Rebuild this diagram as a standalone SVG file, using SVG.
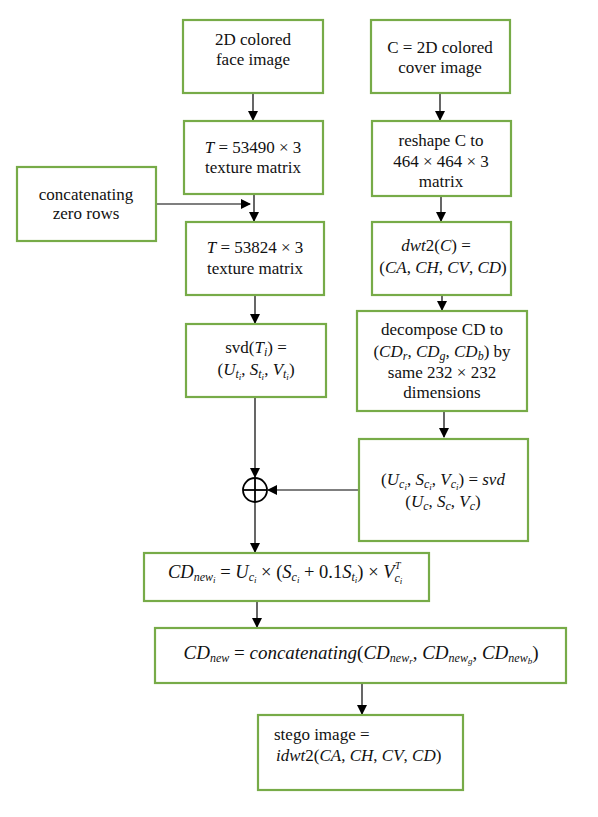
<svg xmlns="http://www.w3.org/2000/svg" width="598" height="817" viewBox="0 0 598 817">
<style>
.b{fill:#fff;stroke:#77ab48;stroke-width:2.2}
.c{fill:none;stroke:#000;stroke-width:1.2}
.t{font-family:"Liberation Serif",serif;font-size:17px;fill:#111;text-anchor:middle}
.l{text-anchor:start}
.m{font-style:italic}
.s{font-size:12px}
.ss{font-size:9px}
</style>
<defs>
<marker id="ah" markerWidth="10" markerHeight="10" refX="9" refY="5" orient="auto" markerUnits="userSpaceOnUse">
<path d="M0,0 L10,5 L0,10 Z" fill="#000"/>
</marker>
</defs>
<rect width="598" height="817" fill="#fff"/>
<g id="connectors">
<line class="c" x1="253" y1="93" x2="253" y2="120" marker-end="url(#ah)"/>
<line class="c" x1="440" y1="93" x2="440" y2="120" marker-end="url(#ah)"/>
<line class="c" x1="254" y1="194" x2="254" y2="221" marker-end="url(#ah)"/>
<line class="c" x1="156" y1="204" x2="250" y2="204" marker-end="url(#ah)"/>
<line class="c" x1="441" y1="196" x2="441" y2="221" marker-end="url(#ah)"/>
<line class="c" x1="255" y1="295" x2="255" y2="323" marker-end="url(#ah)"/>
<line class="c" x1="442" y1="295" x2="442" y2="310" marker-end="url(#ah)"/>
<line class="c" x1="444" y1="411" x2="444" y2="437" marker-end="url(#ah)"/>
<line class="c" x1="255" y1="397" x2="255" y2="477" marker-end="url(#ah)"/>
<line class="c" x1="359" y1="490" x2="268" y2="490" marker-end="url(#ah)"/>
<line class="c" x1="255" y1="502" x2="255" y2="552" marker-end="url(#ah)"/>
<line class="c" x1="257" y1="601" x2="257" y2="627" marker-end="url(#ah)"/>
<line class="c" x1="362" y1="683" x2="362" y2="714" marker-end="url(#ah)"/>
<g id="sum">
<circle cx="255" cy="490" r="12" fill="none" stroke="#000" stroke-width="1.8"/>
<line x1="243" y1="490" x2="267" y2="490" stroke="#000" stroke-width="1.8"/>
<line x1="255" y1="478" x2="255" y2="502" stroke="#000" stroke-width="1.8"/>
</g>
</g>
<g id="n1"><rect class="b" x="183" y="20" width="140" height="73"/>
<text class="t" x="253" y="45">2D colored</text><text class="t" x="253" y="65">face image</text></g>
<g id="n2"><rect class="b" x="371" y="20" width="139" height="73"/>
<text class="t" x="440" y="53">C = 2D colored</text><text class="t" x="440" y="73">cover image</text></g>
<g id="n3"><rect class="b" x="184" y="121" width="139" height="73"/>
<text class="t" x="253" y="153"><tspan class="m">T</tspan> = 53490 × 3</text><text class="t" x="253" y="173">texture matrix</text></g>
<g id="n4"><rect class="b" x="17" y="167" width="139" height="74"/>
<text class="t" x="86" y="200">concatenating</text><text class="t" x="86" y="219">zero rows</text></g>
<g id="n5"><rect class="b" x="186" y="222" width="138" height="73"/>
<text class="t" x="255" y="253"><tspan class="m">T</tspan> = 53824 × 3</text><text class="t" x="255" y="274">texture matrix</text></g>
<g id="n6"><rect class="b" x="372" y="121" width="139" height="75"/>
<text class="t" x="441" y="146">reshape C to</text><text class="t" x="441" y="167">464 × 464 × 3</text><text class="t" x="441" y="187">matrix</text></g>
<g id="n7"><rect class="b" x="372" y="222" width="139" height="73"/>
<text class="t" x="436" y="251"><tspan class="m">dwt</tspan>2(<tspan class="m">C</tspan>) =</text><text class="t" x="443" y="273">(<tspan class="m">CA</tspan>, <tspan class="m">CH</tspan>, <tspan class="m">CV</tspan>, <tspan class="m">CD</tspan>)</text></g>
<g id="n8"><rect class="b" x="186" y="324" width="140" height="73"/>
<text class="t" x="256" y="353">svd(<tspan class="m">T</tspan><tspan class="s m" dy="3">i</tspan><tspan dy="-3">) =</tspan></text>
<text class="t" x="256" y="375">(<tspan class="m">U</tspan><tspan class="s m" dy="3">t</tspan><tspan class="ss m" dy="2">i</tspan><tspan dy="-5">, </tspan><tspan class="m">S</tspan><tspan class="s m" dy="3">t</tspan><tspan class="ss m" dy="2">i</tspan><tspan dy="-5">, </tspan><tspan class="m">V</tspan><tspan class="s m" dy="3">t</tspan><tspan class="ss m" dy="2">i</tspan><tspan dy="-5">)</tspan></text></g>
<g id="n9"><rect class="b" x="357" y="311" width="170" height="100"/>
<text class="t" x="442" y="335">decompose CD to</text>
<text class="t" x="442" y="357">(<tspan class="m">CD</tspan><tspan class="s m" dy="3">r</tspan><tspan dy="-3">, </tspan><tspan class="m">CD</tspan><tspan class="s m" dy="3">g</tspan><tspan dy="-3">, </tspan><tspan class="m">CD</tspan><tspan class="s m" dy="3">b</tspan><tspan dy="-3">) by</tspan></text>
<text class="t" x="442" y="378">same 232 × 232</text><text class="t" x="442" y="398">dimensions</text></g>
<g id="n10"><rect class="b" x="359" y="439" width="169" height="102"/>
<text class="t" x="443" y="485">(<tspan class="m">U</tspan><tspan class="s m" dy="3">c</tspan><tspan class="ss m" dy="2">i</tspan><tspan dy="-5">, </tspan><tspan class="m">S</tspan><tspan class="s m" dy="3">c</tspan><tspan class="ss m" dy="2">i</tspan><tspan dy="-5">, </tspan><tspan class="m">V</tspan><tspan class="s m" dy="3">c</tspan><tspan class="ss m" dy="2">i</tspan><tspan dy="-5">) = </tspan><tspan class="m">svd</tspan></text>
<text class="t" x="443" y="507">(<tspan class="m">U</tspan><tspan class="s m" dy="3">c</tspan><tspan dy="-3">, </tspan><tspan class="m">S</tspan><tspan class="s m" dy="3">c</tspan><tspan dy="-3">, </tspan><tspan class="m">V</tspan><tspan class="s m" dy="3">c</tspan><tspan dy="-3">)</tspan></text></g>
<g id="n11"><rect class="b" x="144" y="553" width="285" height="48"/>
<text class="t l" x="168" y="578" style="font-size:18.5px"><tspan class="m">CD</tspan><tspan class="s m" dy="3">new</tspan><tspan class="ss m" dy="2">i</tspan><tspan dy="-5"> = </tspan><tspan class="m">U</tspan><tspan class="s m" dy="3">c</tspan><tspan class="ss m" dy="2">i</tspan><tspan dy="-5"> × (</tspan><tspan class="m">S</tspan><tspan class="s m" dy="3">c</tspan><tspan class="ss m" dy="2">i</tspan><tspan dy="-5"> + 0.1</tspan><tspan class="m">S</tspan><tspan class="s m" dy="3">t</tspan><tspan class="ss m" dy="2">i</tspan><tspan dy="-5">) × </tspan><tspan class="m">V</tspan><tspan class="s m" dy="4">c</tspan><tspan class="ss m" dy="2">i</tspan></text>
<text class="t l m" x="395" y="569" style="font-size:10px">T</text></g>
<g id="n12"><rect class="b" x="155" y="628" width="411" height="55"/>
<text class="t" x="361" y="659" style="font-size:19px"><tspan class="m">CD</tspan><tspan class="s m" dy="3">new</tspan><tspan dy="-3"> = </tspan><tspan class="m">concatenating</tspan>(<tspan class="m">CD</tspan><tspan class="s m" dy="3">new</tspan><tspan class="ss m" dy="2">r</tspan><tspan dy="-5">, </tspan><tspan class="m">CD</tspan><tspan class="s m" dy="3">new</tspan><tspan class="ss m" dy="2">g</tspan><tspan dy="-5">, </tspan><tspan class="m">CD</tspan><tspan class="s m" dy="3">new</tspan><tspan class="ss m" dy="2">b</tspan><tspan dy="-5">)</tspan></text></g>
<g id="n13"><rect class="b" x="258" y="715" width="205" height="75"/>
<text class="t l" x="274" y="740">stego image =</text>
<text class="t l" x="276" y="761"><tspan class="m">idwt</tspan>2(<tspan class="m">CA</tspan>, <tspan class="m">CH</tspan>, <tspan class="m">CV</tspan>, <tspan class="m">CD</tspan>)</text></g>
</svg>
